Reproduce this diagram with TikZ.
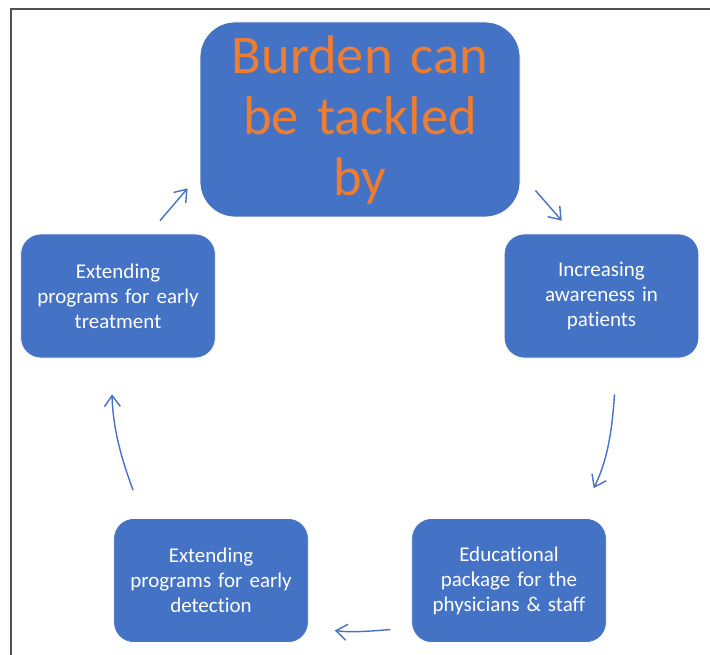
\documentclass[tikz,border=0pt]{standalone}
\usepackage{fontspec}
\setmainfont{Carlito}[Ligatures=NoCommon]
\usepackage{pgf,tikz}
\usetikzlibrary{arrows,arrows.meta}
\usetikzlibrary{positioning}
\definecolor{boxblue}{HTML}{4472C4}
\definecolor{titleorange}{HTML}{ED7D31}
\definecolor{framegray}{HTML}{505050}
\tikzset{
	stagebox/.style={fill=boxblue, draw=white, line width=0.8pt, rounded corners=20pt,
		minimum width=193pt, minimum height=124pt, text width=188pt, align=center,
		text=white, font=\fontsize{21}{25}\selectfont},
	cyc/.style={boxblue, line width=1.4pt, -{Straight Barb[length=11pt,width=16pt]}}
}
\begin{document}
\begin{tikzpicture}[x=1pt,y=-1pt]
		\useasboundingbox (0,0) rectangle (710,655);
		\draw [framegray, line width=2pt] (11,655) -- (11,9) -- (710,9); %rahmen
		\node [stagebox, rounded corners=35pt, minimum width=320pt, minimum height=195pt, text width=310pt,
			text=titleorange, font=\fontsize{54.5}{61}\selectfont] (top) at (360,119.5) {Burden can\\be tackled\\by};
		\node [stagebox] (aware) at (601.5,296) {Increasing\\awareness in\\patients};
		\node [stagebox] (edu) at (509,580.5) {Educational\\package for the\\physicians \& staff};
		\node [stagebox] (detect) at (211,580.5) {Extending\\programs for early\\detection};
		\node [stagebox] (treat) at (118,296) {Extending\\programs for early\\treatment};
		\coordinate (a1) at ([xshift=15pt,yshift=27pt]top.south east);
		\coordinate (a2) at ([xshift=58pt,yshift=13pt]aware.north west);
		\coordinate (b1) at ([xshift=13pt,yshift=-36pt]aware.south);
		\coordinate (b2) at ([xshift=-13pt,yshift=30pt]edu.north east);
		\coordinate (c1) at ([xshift=-21pt,yshift=-49pt]edu.west);
		\coordinate (c2) at ([xshift=26pt,yshift=-50pt]detect.east);
		\coordinate (d1) at ([xshift=-78pt,yshift=28pt]detect.north);
		\coordinate (d2) at ([xshift=-6pt,yshift=-36pt]treat.south);
		\coordinate (e1) at ([xshift=42pt,yshift=13pt]treat.north);
		\coordinate (e2) at ([xshift=-12pt,yshift=29pt]top.south west);
		\draw [cyc] (a1) -- (a2);
		\draw [cyc] (b1) .. controls ([xshift=-3pt,yshift=-47pt]b1) and ([xshift=-10pt,yshift=-72pt]b1) .. (b2);
		\draw [cyc] (c1) .. controls ([xshift=-22pt,yshift=-2pt]c1) and ([xshift=-42pt,yshift=-3pt]c1) .. (c2);
		\draw [cyc] (d1) .. controls ([xshift=-11pt,yshift=30pt]d1) and ([xshift=-20pt,yshift=60pt]d1) .. (d2);
		\draw [cyc] (e1) -- (e2);
		\end{tikzpicture}
\end{document}
